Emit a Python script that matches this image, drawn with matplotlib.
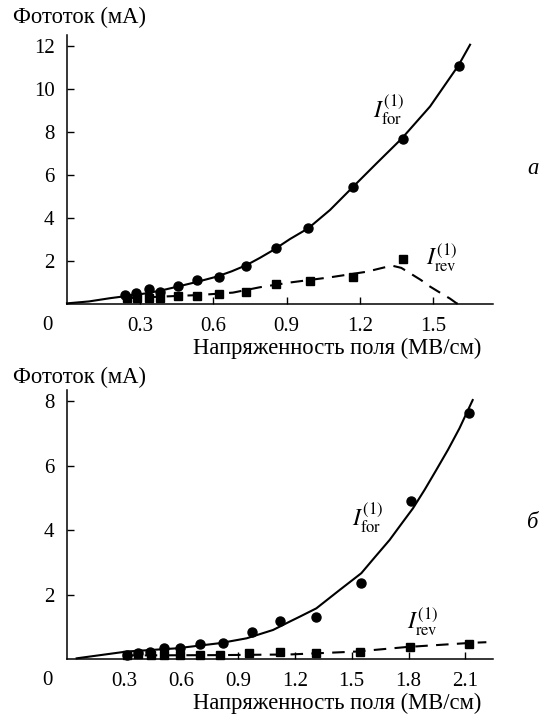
import matplotlib
matplotlib.use('Agg')
from matplotlib import pyplot as plt

plt.rcParams['font.family'] = ['Liberation Serif', 'DejaVu Serif']
plt.rcParams['mathtext.fontset'] = 'stix'

# panel a: measured points
a_for_x = [0.238, 0.284, 0.337, 0.382, 0.453, 0.533, 0.625, 0.732, 0.855, 0.989, 1.174, 1.376, 1.608]
a_for_y = [0.42, 0.50, 0.70, 0.54, 0.84, 1.12, 1.24, 1.77, 2.60, 3.52, 5.43, 7.67, 11.08]
a_rev_x = [0.245, 0.286, 0.337, 0.382, 0.453, 0.533, 0.625, 0.732, 0.855, 0.995, 1.174, 1.376]
a_rev_y = [0.27, 0.27, 0.29, 0.29, 0.39, 0.39, 0.47, 0.54, 0.92, 1.08, 1.24, 2.09]
# panel a: fitted curves
a_fit_for_x = [0.0, 0.09, 0.176, 0.25, 0.327, 0.39, 0.45, 0.53, 0.613, 0.675, 0.736, 0.79, 0.846,
               0.914, 0.989, 1.078, 1.171, 1.269, 1.372, 1.488, 1.604, 1.652]
a_fit_for_y = [0.03, 0.12, 0.27, 0.38, 0.50, 0.64, 0.80, 1.02, 1.27, 1.52, 1.81, 2.14, 2.51,
               3.02, 3.52, 4.37, 5.43, 6.54, 7.69, 9.18, 11.08, 12.05]
a_fit_rev_x = [0.238, 0.381, 0.545, 0.68, 0.791, 0.914, 1.078, 1.228, 1.30, 1.337, 1.37, 1.406,
               1.45, 1.488, 1.53, 1.57, 1.597, 1.624]
a_fit_rev_y = [0.27, 0.34, 0.42, 0.53, 0.78, 1.0, 1.24, 1.5, 1.7, 1.77, 1.68, 1.43,
               1.12, 0.81, 0.52, 0.25, 0.03, 0.0]

# panel б: measured points
b_for_x = [0.314, 0.375, 0.44, 0.51, 0.595, 0.70, 0.82, 0.977, 1.121, 1.31, 1.547, 1.814, 2.121]
b_for_y = [0.13, 0.19, 0.24, 0.34, 0.34, 0.47, 0.50, 0.84, 1.19, 1.32, 2.37, 4.91, 7.63]
b_rev_x = [0.314, 0.375, 0.445, 0.51, 0.595, 0.70, 0.805, 0.96, 1.121, 1.31, 1.542, 1.809, 2.116]
b_rev_y = [0.13, 0.15, 0.13, 0.13, 0.13, 0.13, 0.13, 0.19, 0.22, 0.19, 0.22, 0.37, 0.47]
# panel б: fitted curves
b_fit_for_x = [0.051, 0.314, 0.577, 0.805, 0.946, 1.086, 1.174, 1.226, 1.314, 1.437, 1.551,
               1.62, 1.70, 1.76, 1.823, 1.885, 1.946, 2.008, 2.068, 2.138]
b_fit_for_y = [0.03, 0.24, 0.34, 0.50, 0.65, 0.91, 1.17, 1.32, 1.58, 2.15, 2.67,
               3.15, 3.70, 4.18, 4.68, 5.26, 5.87, 6.50, 7.16, 8.04]
b_fit_rev_x = [0.30, 0.80, 1.174, 1.525, 1.788, 2.13, 2.21]
b_fit_rev_y = [0.12, 0.13, 0.15, 0.24, 0.38, 0.51, 0.53]

a_xticks = [0.3, 0.6, 0.9, 1.2, 1.5]
a_yticks = [2, 4, 6, 8, 10, 12]
b_xticks = [0.3, 0.6, 0.9, 1.2, 1.5, 1.8, 2.1]
b_yticks = [2, 4, 6, 8]

ylabel = 'Фототок (мА)'
xlabel = 'Напряженность поля (МВ/см)'
TICK_FS = 15
TEXT_FS = 16.3


def setup_axes(ax, xlim, ylim, xticks, yticks):
    ax.set_xlim(*xlim)
    ax.set_ylim(*ylim)
    for s in ['top', 'right']:
        ax.spines[s].set_visible(False)
    for s in ['left', 'bottom']:
        ax.spines[s].set_linewidth(1.1)
    ax.set_xticks(xticks)
    ax.set_yticks(yticks)
    ax.set_xticklabels([str(t) for t in xticks])
    ax.tick_params(axis='both', direction='in', length=5, width=1.0, labelsize=TICK_FS)
    ax.tick_params(axis='x', pad=9)
    ax.tick_params(axis='y', pad=9)
    ax.text(-0.045, -0.08, '0', transform=ax.transAxes, ha='center', va='center', fontsize=TICK_FS)


def draw_panel(ax, fx, fy, rx, ry, ffx, ffy, frx, fry):
    ax.plot(ffx, ffy, color='black', lw=1.5, clip_on=False)
    ax.plot(frx, fry, color='black', lw=1.5, dashes=(6, 4), clip_on=False)
    ax.plot(fx, fy, 'o', color='black', ms=6.5, clip_on=False)
    ax.plot(rx, ry, 's', color='black', ms=6, clip_on=False)


fig = plt.figure(figsize=(5.45, 7.15), dpi=100)
ax1 = fig.add_axes([0.1229, 0.5748, 0.7817, 0.3762])
ax2 = fig.add_axes([0.1229, 0.0779, 0.7817, 0.3766])

setup_axes(ax1, (0, 1.746), (0, 12.5), a_xticks, a_yticks)
draw_panel(ax1, a_for_x, a_for_y, a_rev_x, a_rev_y, a_fit_for_x, a_fit_for_y, a_fit_rev_x, a_fit_rev_y)
ax1.text(1.316, 9.0, r'$I_{\rm for}^{(1)}$', fontsize=17, ha='center', va='center')
ax1.text(1.537, 2.14, r'$I_{\rm rev}^{(1)}$', fontsize=17, ha='center', va='center')

setup_axes(ax2, (0, 2.245), (0, 8.35), b_xticks, b_yticks)
draw_panel(ax2, b_for_x, b_for_y, b_rev_x, b_rev_y, b_fit_for_x, b_fit_for_y, b_fit_rev_x, b_fit_rev_y)
ax2.text(1.584, 4.38, r'$I_{\rm for}^{(1)}$', fontsize=17, ha='center', va='center')
ax2.text(1.874, 1.16, r'$I_{\rm rev}^{(1)}$', fontsize=17, ha='center', va='center')

fig.text(13 / 545, 1 - 17 / 715, ylabel, fontsize=TEXT_FS, ha='left', va='center')
fig.text(13 / 545, 1 - 377 / 715, ylabel, fontsize=TEXT_FS, ha='left', va='center')
fig.text(481 / 545, 1 - 348 / 715, xlabel, fontsize=TEXT_FS, ha='right', va='center')
fig.text(481 / 545, 1 - 703 / 715, xlabel, fontsize=TEXT_FS, ha='right', va='center')
fig.text(533 / 545, 1 - 168 / 715, 'a', fontsize=TEXT_FS, style='italic', ha='center', va='center')
fig.text(533 / 545, 1 - 523 / 715, 'б', fontsize=TEXT_FS, style='italic', ha='center', va='center')

fig.savefig('out.png', dpi=100, facecolor='white')
